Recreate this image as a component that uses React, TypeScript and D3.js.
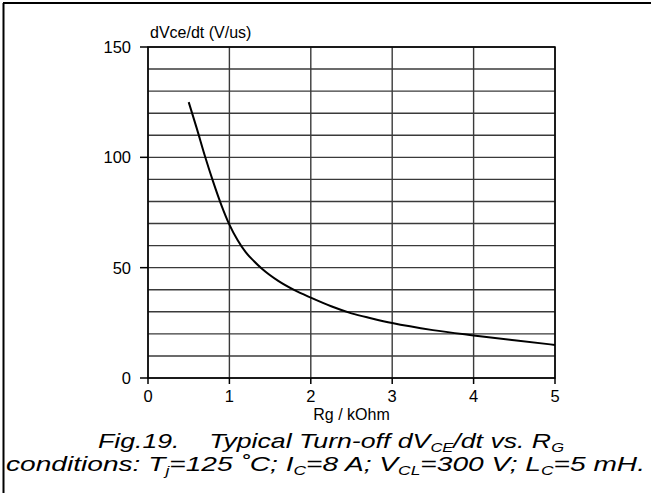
import React from "react";
import * as d3 from "d3";

const rgValues = [0.5, 0.6, 0.7, 0.8, 0.9, 1.0, 1.1, 1.2, 1.3, 1.4, 1.6, 1.8, 2.0, 2.25, 2.5, 2.75, 3.0, 3.5, 4.0, 4.5, 5.0];
const dvdtValues = [125, 113, 100.5, 89, 78.5, 69.5, 62.5, 57, 53, 49.5, 44, 39.8, 36.4, 32.5, 29.3, 27, 24.9, 21.7, 19.3, 17.1, 15];
const xTicks = [0, 1, 2, 3, 4, 5];
const yTicks = [0, 50, 100, 150];
const yGrid = d3.range(0, 151, 10);
const yTitle = "dVce/dt (V/us)";
const xTitle = "Rg / kOhm";

const W = 651, H = 496;
const L = 148, R = 555, T = 47, B = 378;

export default function App() {
  const x = d3.scaleLinear().domain([0, 5]).range([L, R]);
  const y = d3.scaleLinear().domain([0, 150]).range([B, T]);
  const pts: [number, number][] = rgValues.map((v, i) => [v, dvdtValues[i]]);
  const line = d3.line<[number, number]>().x(d => x(d[0])).y(d => y(d[1])).curve(d3.curveMonotoneX);
  const font = "'Liberation Sans', Arial, sans-serif";
  return (
    <svg width={W} height={H} style={{ position: "absolute", left: 0, top: 0, background: "#fff" }} fontFamily={font}>
      <rect x={0} y={0} width={W} height={H} fill="#fff" />
      {/* outer frame */}
      <line x1={3} y1={3} x2={W} y2={3} stroke="#000" strokeWidth={2} />
      <line x1={3.5} y1={3} x2={3.5} y2={493} stroke="#000" strokeWidth={2} />
      {/* grid */}
      {yGrid.map(v => (
        <line key={"h" + v} x1={L} x2={R} y1={y(v)} y2={y(v)} stroke="#3a3a3a" strokeWidth={1.4} />
      ))}
      {xTicks.map(v => (
        <line key={"v" + v} x1={x(v)} x2={x(v)} y1={T} y2={B} stroke="#3a3a3a" strokeWidth={1.4} />
      ))}
      {/* axes & frame */}
      <rect x={L} y={T} width={R - L} height={B - T} fill="none" stroke="#000" strokeWidth={1.5} />
      {yTicks.map(v => (
        <g key={"yt" + v}>
          <line x1={L - 8} x2={L} y1={y(v)} y2={y(v)} stroke="#000" strokeWidth={1.5} />
          <text x={131} y={y(v) + 6} textAnchor="end" fontSize={16.5} fill="#000">{v}</text>
        </g>
      ))}
      {xTicks.map(v => (
        <g key={"xt" + v}>
          <line x1={x(v)} x2={x(v)} y1={B} y2={B + 6} stroke="#000" strokeWidth={1.5} />
          <text x={x(v)} y={B + 24} textAnchor="middle" fontSize={16.5} fill="#000">{v}</text>
        </g>
      ))}
      <text x={150} y={38} fontSize={16} fill="#000">{yTitle}</text>
      <text x={(L + R) / 2} y={420} textAnchor="middle" fontSize={16} fill="#000">{xTitle}</text>
      {/* curve */}
      <path d={line(pts) || ""} fill="none" stroke="#000" strokeWidth={2} />
      {/* caption */}
      <text x={98} y={448} fontSize={21} fontStyle="italic" fill="#000" textLength={466} lengthAdjust="spacingAndGlyphs">
        Fig.19.{"\u00A0\u00A0\u00A0\u00A0"}Typical Turn-off dV<tspan fontSize={13} dy={4}>CE</tspan><tspan dy={-4}>/dt vs. R</tspan><tspan fontSize={13} dy={4}>G</tspan>
      </text>
      <text x={6} y={471} fontSize={21} fontStyle="italic" fill="#000" textLength={639} lengthAdjust="spacingAndGlyphs">
        conditions: T<tspan fontSize={13} dy={4}>j</tspan><tspan dy={-4}>=125 ˚C; I</tspan><tspan fontSize={13} dy={4}>C</tspan><tspan dy={-4}>=8 A; V</tspan><tspan fontSize={13} dy={4}>CL</tspan><tspan dy={-4}>=300 V; L</tspan><tspan fontSize={13} dy={4}>C</tspan><tspan dy={-4}>=5 mH.</tspan>
      </text>
    </svg>
  );
}
